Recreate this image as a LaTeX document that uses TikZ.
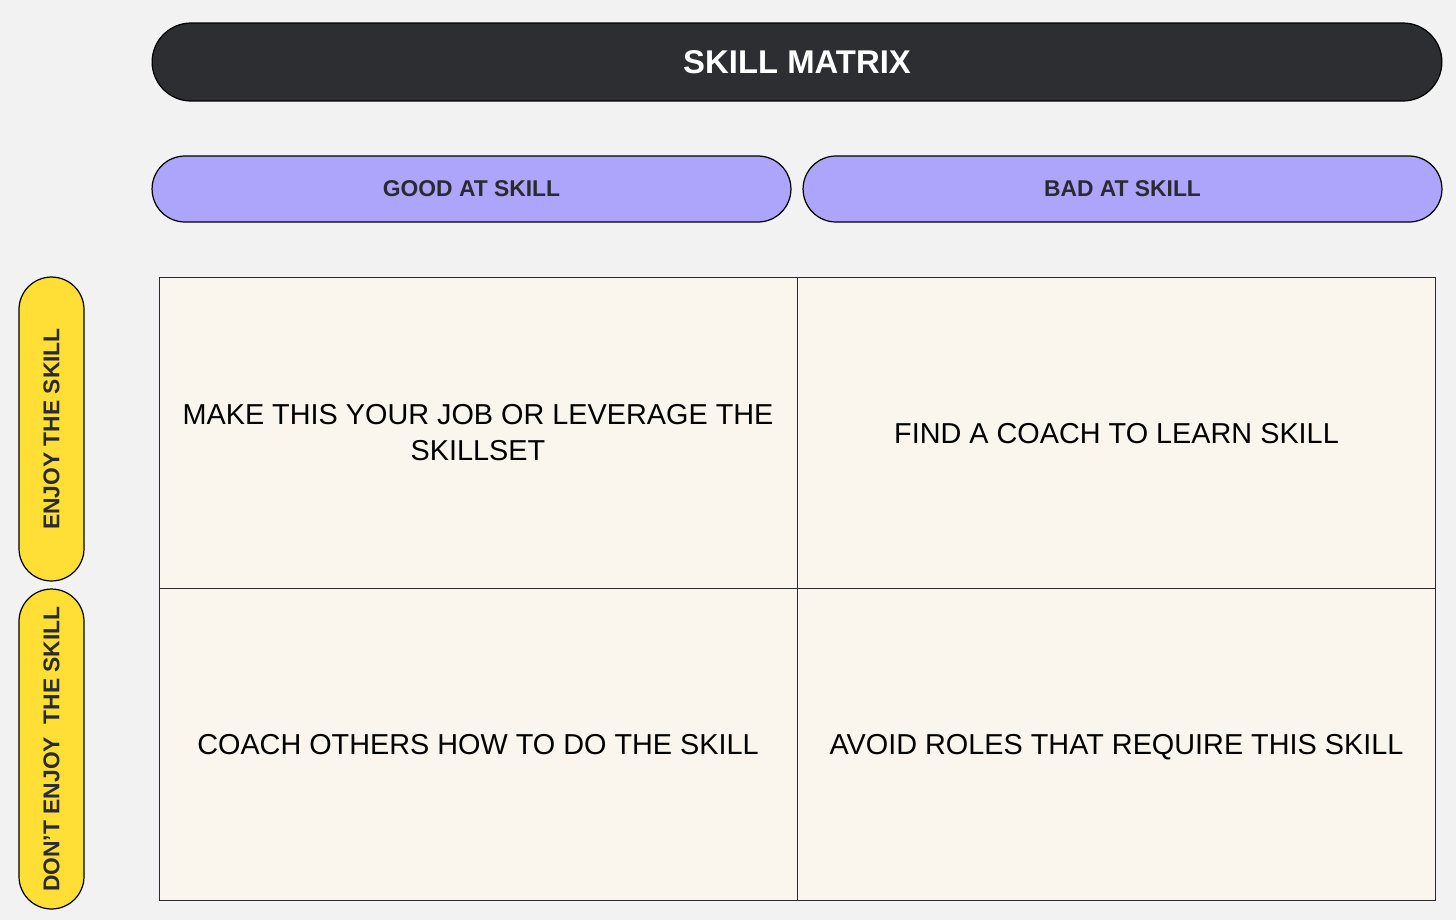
\documentclass[tikz,border=0pt]{standalone}
\usepackage{fontspec}
\setmainfont{Liberation Sans}
\definecolor{bgc}{HTML}{F2F2F2}
\definecolor{darkc}{HTML}{2D2E32}
\definecolor{purplec}{HTML}{ADA4FC}
\definecolor{yellowc}{HTML}{FFDE35}
\definecolor{cellc}{HTML}{FAF6EE}
\definecolor{inkc}{HTML}{2A2B30}
\tikzset{
  pill/.style = {draw=black, line width=0.7pt, text=inkc, font=\bfseries\fontsize{13}{15}\selectfont, inner sep=0pt},
  cell/.style = {draw=inkc, line width=0.5pt, fill=cellc, minimum width=12.76cm, minimum height=6.23cm, inner sep=0pt, align=center, text=black, font=\fontsize{16.4}{20.5}\selectfont},
  oneline/.style = {text depth=0pt}
}
\begin{document}
\begin{tikzpicture}[x=0.02cm, y=-0.02cm]
            \fill[bgc] (0,0) rectangle (1456,920);
            \useasboundingbox (0,0) rectangle (1456,920);
            % title bar
            \node[pill, fill=darkc, text=white, minimum width=25.8cm, minimum height=1.56cm, rounded corners=0.78cm, font=\bfseries\fontsize{18.7}{22}\selectfont] (title) at (797,62) {SKILL MATRIX};
            % column headers
            \node[pill, fill=purplec, minimum width=12.78cm, minimum height=1.32cm, rounded corners=0.66cm] (good) at (471.5,189) {GOOD AT SKILL};
            \node[pill, fill=purplec, minimum width=12.78cm, minimum height=1.32cm, rounded corners=0.66cm] (bad) at (1122.5,189) {BAD AT SKILL};
            % row headers
            \node[pill, fill=yellowc, rotate=90, minimum width=6.08cm, minimum height=1.3cm, rounded corners=0.65cm] (enjoy) at (51.5,429) {ENJOY THE SKILL};
            \node[pill, fill=yellowc, rotate=90, minimum width=6.4cm, minimum height=1.3cm, rounded corners=0.65cm] (dont) at (51.5,749) {DON'T ENJOY\ \ THE SKILL};
            % the four cells
            \node[cell] (gooden) at (478,433) {MAKE THIS YOUR JOB OR LEVERAGE THE\\SKILLSET};
            \node[cell, oneline] (baden) at (1116.5,433) {FIND A COACH TO LEARN SKILL};
            \node[cell, oneline] (goodno) at (478,744.5) {COACH OTHERS HOW TO DO THE SKILL};
            \node[cell, oneline] (badno) at (1116.5,744.5) {AVOID ROLES THAT REQUIRE THIS SKILL};
\end{tikzpicture}
\end{document}
